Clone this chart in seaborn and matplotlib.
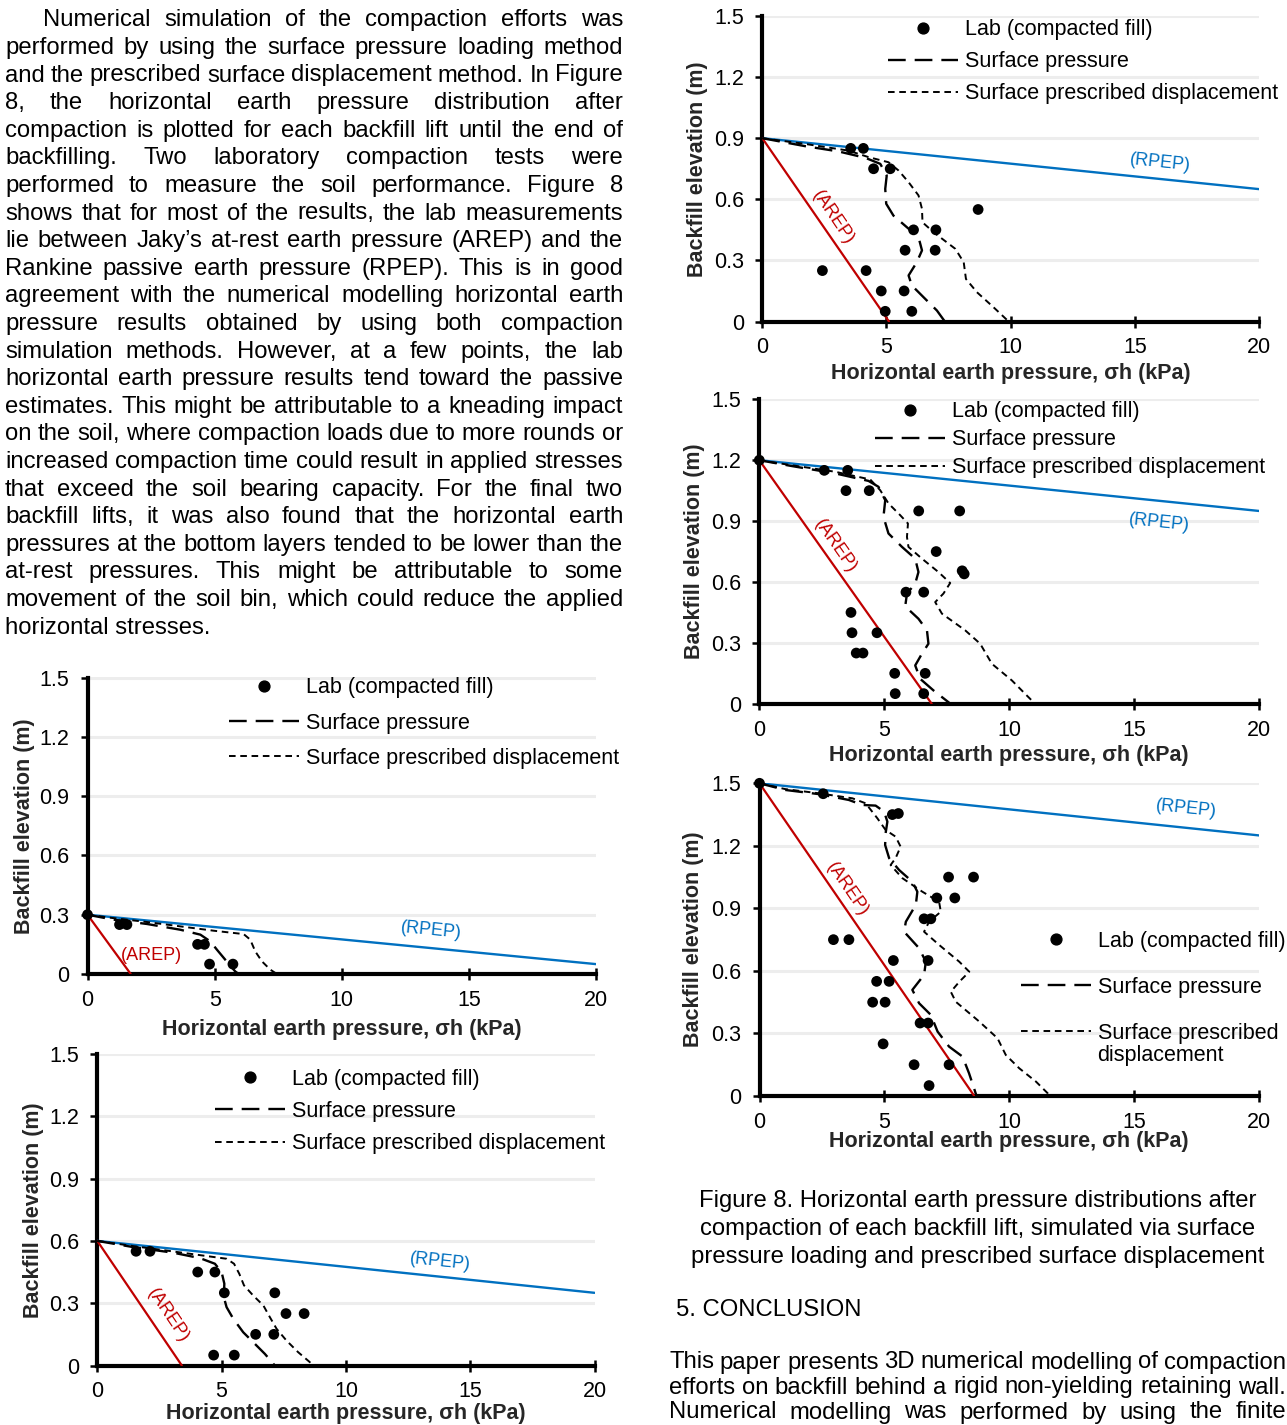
import matplotlib
matplotlib.use("Agg")
import matplotlib.pyplot as plt
from matplotlib.lines import Line2D
import pandas as pd
import seaborn as sns

# ---------------------------------------------------------------- data
lift_heights = [0.3, 0.6, 0.9, 1.2, 1.5]
arep_base = [1.7, 3.4, 5.1, 6.9, 8.6]          # at-rest pressure at wall base (kPa)
rpep_at20 = [0.05, 0.35, 0.65, 0.95, 1.25]     # elevation where RPEP reaches 20 kPa

lab_x_03 = [0, 1.26, 1.55, 4.33, 4.60, 4.80, 5.72]
lab_y_03 = [0.30, 0.25, 0.25, 0.15, 0.15, 0.05, 0.05]
sp_x_03 = [0, 1.02, 2.34, 3.65, 4.44, 4.83, 5.09, 5.42, 5.81, 5.95]
sp_y_03 = [0.30, 0.275, 0.253, 0.224, 0.199, 0.165, 0.123, 0.072, 0.013, 0.0]
pd_x_03 = [0, 1.0, 2.34, 3.65, 4.96, 6.14, 6.40, 6.60, 6.86, 7.19, 7.45]
pd_y_03 = [0.30, 0.283, 0.263, 0.241, 0.219, 0.202, 0.174, 0.114, 0.064, 0.022, 0.0]

lab_x_06 = [1.56, 2.12, 4.04, 4.73, 5.11, 7.14, 7.59, 8.32, 6.37, 7.10, 4.68, 5.51]
lab_y_06 = [0.55, 0.55, 0.45, 0.45, 0.35, 0.35, 0.25, 0.25, 0.15, 0.15, 0.05, 0.05]
sp_x_06 = [0, 1.45, 3.06, 4.13, 4.73, 5.00, 5.11, 5.09, 5.20, 5.47, 5.87, 6.34, 6.74, 7.14]
sp_y_06 = [0.60, 0.570, 0.543, 0.517, 0.490, 0.450, 0.394, 0.329, 0.281, 0.225, 0.160, 0.104, 0.056, 0.0]
pd_x_06 = [0, 1.45, 3.06, 4.40, 5.20, 5.50, 5.71, 5.90, 6.27, 6.68, 6.94, 7.21, 7.61, 8.08, 8.55, 8.65]
pd_y_06 = [0.60, 0.575, 0.549, 0.527, 0.514, 0.490, 0.442, 0.386, 0.337, 0.289, 0.233, 0.177, 0.120, 0.064, 0.016, 0.0]

lab_x_09 = [3.56, 4.07, 4.48, 5.15, 8.69, 6.09, 6.99, 5.75, 6.96, 2.42, 4.18, 4.79, 5.71, 4.95, 6.02]
lab_y_09 = [0.85, 0.85, 0.75, 0.75, 0.55, 0.45, 0.45, 0.35, 0.35, 0.25, 0.25, 0.15, 0.15, 0.05, 0.05]
sp_x_09 = [0, 1.72, 3.07, 4.14, 4.75, 5.01, 4.95, 4.99, 5.28, 5.82, 6.29, 6.43, 6.22, 5.89, 6.02, 6.56, 7.03, 7.35]
sp_y_09 = [0.90, 0.861, 0.835, 0.804, 0.774, 0.717, 0.651, 0.578, 0.520, 0.463, 0.414, 0.349, 0.291, 0.226, 0.177, 0.111, 0.054, 0.0]
pd_x_09 = [0, 1.72, 3.47, 4.28, 5.08, 5.49, 5.89, 6.29, 6.43, 6.45, 6.90, 7.77, 8.11, 8.20, 8.64, 9.31, 9.92]
pd_y_09 = [0.90, 0.872, 0.839, 0.807, 0.782, 0.741, 0.684, 0.619, 0.553, 0.487, 0.438, 0.357, 0.291, 0.209, 0.144, 0.070, 0.0]

lab_x_12 = [0, 2.60, 3.54, 3.47, 4.40, 6.38, 8.02, 7.08, 8.12, 8.20, 5.87, 6.58, 3.67, 3.71, 4.71, 3.88, 4.15, 5.42, 6.64, 5.44, 6.58]
lab_y_12 = [1.20, 1.15, 1.15, 1.05, 1.05, 0.95, 0.95, 0.75, 0.655, 0.64, 0.55, 0.55, 0.45, 0.35, 0.35, 0.25, 0.25, 0.15, 0.15, 0.05, 0.05]
sp_x_12 = [0, 1.31, 3.04, 4.37, 4.77, 5.04, 4.97, 5.17, 5.71, 6.24, 6.37, 6.24, 5.91, 5.84, 6.37, 6.71, 6.77, 6.51, 6.24, 6.44, 6.97, 7.57, 7.65]
sp_y_12 = [1.20, 1.171, 1.135, 1.098, 1.069, 1.003, 0.921, 0.839, 0.773, 0.715, 0.649, 0.592, 0.543, 0.480, 0.419, 0.362, 0.296, 0.247, 0.189, 0.123, 0.066, 0.008, 0.0]
pd_x_12 = [0, 1.31, 3.04, 4.44, 4.84, 5.17, 5.64, 5.95, 5.91, 5.97, 6.51, 7.17, 7.64, 7.37, 7.04, 7.31, 8.24, 8.84, 9.31, 10.11, 10.64, 11.04]
pd_y_12 = [1.20, 1.175, 1.143, 1.105, 1.052, 0.987, 0.929, 0.888, 0.822, 0.773, 0.715, 0.649, 0.595, 0.543, 0.501, 0.444, 0.362, 0.296, 0.197, 0.115, 0.049, 0.0]

lab_x_15 = [0, 2.55, 5.32, 5.56, 7.57, 8.57, 7.10, 7.82, 6.59, 6.86, 2.96, 3.58, 5.36, 6.75, 4.69, 5.19, 4.53, 5.03, 6.43, 6.75, 4.95, 6.19, 7.59, 6.79]
lab_y_15 = [1.50, 1.45, 1.35, 1.355, 1.05, 1.05, 0.95, 0.95, 0.85, 0.85, 0.75, 0.75, 0.65, 0.65, 0.55, 0.55, 0.45, 0.45, 0.35, 0.35, 0.25, 0.15, 0.15, 0.05]
sp_x_15 = [0, 1.04, 2.38, 3.58, 4.12, 4.65, 4.99, 5.12, 5.05, 5.03, 5.19, 5.59, 6.12, 6.32, 6.26, 5.86, 5.79, 6.39, 6.66, 6.59, 6.12, 6.39, 6.86, 7.13, 7.59, 8.13, 8.39, 8.59, 8.69]
sp_y_15 = [1.50, 1.468, 1.448, 1.420, 1.396, 1.393, 1.364, 1.316, 1.261, 1.204, 1.141, 1.084, 1.028, 0.980, 0.917, 0.836, 0.788, 0.709, 0.644, 0.581, 0.509, 0.445, 0.389, 0.309, 0.237, 0.189, 0.109, 0.037, 0.0]
pd_x_15 = [0, 1.04, 2.38, 3.72, 4.25, 4.72, 5.05, 5.45, 5.65, 5.45, 5.25, 5.72, 6.52, 7.19, 7.26, 6.79, 6.59, 7.19, 8.00, 8.40, 8.00, 7.66, 7.86, 8.80, 9.53, 9.86, 10.40, 11.07, 11.54, 11.6]
pd_y_15 = [1.50, 1.472, 1.452, 1.428, 1.404, 1.332, 1.276, 1.244, 1.196, 1.141, 1.108, 1.045, 0.980, 0.932, 0.884, 0.836, 0.788, 0.725, 0.644, 0.596, 0.548, 0.500, 0.452, 0.357, 0.277, 0.197, 0.133, 0.069, 0.013, 0.0]

x_ticks = [0, 5, 10, 15, 20]
y_ticks = [0, 0.3, 0.6, 0.9, 1.2, 1.5]
y_tick_labels = ["0", "0.3", "0.6", "0.9", "1.2", "1.5"]
legend_labels = ["Lab (compacted fill)", "Surface pressure", "Surface prescribed displacement"]
x_label = "Horizontal earth pressure, σh (kPa)"
y_label = "Backfill elevation (m)"

body_lines = [
    "Numerical simulation of the compaction efforts was",
    "performed by using the surface pressure loading method",
    "and the prescribed surface displacement method. In Figure",
    "8, the horizontal earth pressure distribution after",
    "compaction is plotted for each backfill lift until the end of",
    "backfilling. Two laboratory compaction tests were",
    "performed to measure the soil performance. Figure 8",
    "shows that for most of the results, the lab measurements",
    "lie between Jaky’s at-rest earth pressure (AREP) and the",
    "Rankine passive earth pressure (RPEP). This is in good",
    "agreement with the numerical modelling horizontal earth",
    "pressure results obtained by using both compaction",
    "simulation methods. However, at a few points, the lab",
    "horizontal earth pressure results tend toward the passive",
    "estimates. This might be attributable to a kneading impact",
    "on the soil, where compaction loads due to more rounds or",
    "increased compaction time could result in applied stresses",
    "that exceed the soil bearing capacity. For the final two",
    "backfill lifts, it was also found that the horizontal earth",
    "pressures at the bottom layers tended to be lower than the",
    "at-rest pressures. This might be attributable to some",
    "movement of the soil bin, which could reduce the applied",
    "horizontal stresses.",
]
caption_lines = [
    "Figure 8. Horizontal earth pressure distributions after",
    "compaction of each backfill lift, simulated via surface",
    "pressure loading and prescribed surface displacement",
]
heading = "5. CONCLUSION"
conclusion_lines = [
    "This paper presents 3D numerical modelling of compaction",
    "efforts on backfill behind a rigid non-yielding retaining wall.",
    "Numerical modelling was performed by using the finite",
]

# ---------------------------------------------------------------- style
sns.set_theme(style="white")
plt.rcParams["font.family"] = ["Liberation Sans", "DejaVu Sans"]
plt.rcParams["axes.unicode_minus"] = False

W, H = 1287, 1425
fig = plt.figure(figsize=(W / 100, H / 100), dpi=100)
fig.patch.set_facecolor("white")

BODY_FS = 17.2
AX_FS = 15.5
LAB_FS = 13
BLUE = "#0070C0"
RED = "#C00000"
LW_SP, DASH_SP = 1.7, (7.5, 3.8)
LW_PD, DASH_PD = 1.4, (3.4, 2.4)


def fx(px):
    return px / W


def fy(py):
    return 1 - py / H


# panel geometry in pixels: left, right, y(0), y(1.5)
panels = [
    dict(H=lift_heights[0], arep=arep_base[0], rpep=rpep_at20[0],
         lx=lab_x_03, ly=lab_y_03, sx=sp_x_03, sy=sp_y_03, px=pd_x_03, py=pd_y_03,
         box=(87.5, 596, 974, 677.5),
         arep_lab=(2.53, 0.093, 0), rpep_lab=(13.5, 0.219, -5.5),
         leg=(229, 686, 0.66), xoff=55, yoff=63),
    dict(H=lift_heights[1], arep=arep_base[1], rpep=rpep_at20[1],
         lx=lab_x_06, ly=lab_y_06, sx=sp_x_06, sy=sp_y_06, px=pd_x_06, py=pd_y_06,
         box=(97.3, 594.5, 1365.5, 1054),
         arep_lab=(2.85, 0.238, -56), rpep_lab=(13.8, 0.50, -6),
         leg=(215, 1077, 0.53), xoff=48, yoff=64),
    dict(H=lift_heights[2], arep=arep_base[2], rpep=rpep_at20[2],
         lx=lab_x_09, ly=lab_y_09, sx=sp_x_09, sy=sp_y_09, px=pd_x_09, py=pd_y_09,
         box=(762.3, 1259, 321.5, 16),
         arep_lab=(2.86, 0.51, -56), rpep_lab=(16.0, 0.78, -6),
         leg=(888, 28, 0.51), xoff=52, yoff=65),
    dict(H=lift_heights[3], arep=arep_base[3], rpep=rpep_at20[3],
         lx=lab_x_12, ly=lab_y_12, sx=sp_x_12, sy=sp_y_12, px=pd_x_12, py=pd_y_12,
         box=(759.3, 1259, 703.8, 399.3),
         arep_lab=(3.04, 0.776, -55), rpep_lab=(16.0, 0.89, -6),
         leg=(875, 410, 0.32), xoff=52, yoff=65),
    dict(H=lift_heights[4], arep=arep_base[4], rpep=rpep_at20[4],
         lx=lab_x_15, ly=lab_y_15, sx=sp_x_15, sy=sp_y_15, px=pd_x_15, py=pd_y_15,
         box=(759.5, 1259, 1096, 783.3),
         arep_lab=(3.52, 0.99, -55.5), rpep_lab=(17.1, 1.38, -6),
         leg=(1021, 939, 1.17), xoff=46, yoff=66, split=True),
]

for p in panels:
    l, r, y0, y1 = p["box"]
    ax = fig.add_axes([fx(l), fy(y0), (r - l) / W, (y0 - y1) / H])
    ax.set_xlim(0, 20)
    ax.set_ylim(0, 1.5)
    ax.set_facecolor("none")

    # grid
    ax.set_axisbelow(True)
    ax.grid(axis="y", color="#EDEDED", lw=2.2)
    ax.grid(axis="x", visible=False)

    # theory lines
    rp = pd.DataFrame({"x": [0, 20], "y": [p["H"], p["rpep"]]})
    sns.lineplot(data=rp, x="x", y="y", ax=ax, color=BLUE, lw=1.7,
                 sort=False, estimator=None, zorder=3)
    ar = pd.DataFrame({"x": [0, p["arep"]], "y": [p["H"], 0]})
    sns.lineplot(data=ar, x="x", y="y", ax=ax, color=RED, lw=1.6,
                 sort=False, estimator=None, zorder=3)

    # simulations
    sns.lineplot(x=p["sx"], y=p["sy"], ax=ax, color="black", lw=LW_SP,
                 linestyle=(0, DASH_SP), sort=False, estimator=None, zorder=4)
    sns.lineplot(x=p["px"], y=p["py"], ax=ax, color="black", lw=LW_PD,
                 linestyle=(0, DASH_PD), sort=False, estimator=None, zorder=4)

    # lab
    sns.scatterplot(x=p["lx"], y=p["ly"], ax=ax, color="black", s=60,
                    edgecolor="none", zorder=6, clip_on=False, legend=False)

    # theory labels
    axl = p["arep_lab"]
    ax.text(axl[0], axl[1], "(AREP)", color=RED, fontsize=LAB_FS,
            rotation=axl[2], ha="center", va="center", rotation_mode="anchor")
    rpl = p["rpep_lab"]
    ax.text(rpl[0], rpl[1], "(RPEP)", color=BLUE, fontsize=LAB_FS,
            rotation=rpl[2], ha="center", va="center", rotation_mode="anchor")

    # axes styling
    for side in ("top", "right"):
        ax.spines[side].set_visible(False)
    for side in ("left", "bottom"):
        ax.spines[side].set_visible(True)
        ax.spines[side].set_color("black")
        ax.spines[side].set_linewidth(3.0)
    ax.set_xticks(x_ticks)
    ax.set_xticklabels([str(t) for t in x_ticks])
    ax.set_yticks(y_ticks)
    ax.set_yticklabels(y_tick_labels)
    ax.tick_params(axis="x", direction="inout", length=8, width=1.8,
                   color="black", labelsize=AX_FS, labelcolor="black", pad=7.5,
                   bottom=True)
    ax.tick_params(axis="y", direction="out", length=5, width=1.8,
                   color="black", labelsize=AX_FS, labelcolor="black", pad=8,
                   left=True)

    axw, axh = r - l, y0 - y1
    ax.set_xlabel(x_label, fontsize=AX_FS, fontweight="bold", va="center")
    ax.xaxis.set_label_coords(0.5, -p["xoff"] / axh)
    ax.set_ylabel(y_label, fontsize=AX_FS, fontweight="bold", va="center")
    ax.yaxis.set_label_coords(-p["yoff"] / axw, 0.5)

    # legend
    handles = [
        Line2D([], [], marker="o", ls="none", color="black", markersize=7.8),
        Line2D([], [], color="black", lw=LW_SP, dashes=DASH_SP),
        Line2D([], [], color="black", lw=LW_PD, dashes=DASH_PD),
    ]
    labels = list(legend_labels)
    if p.get("split"):
        labels[2] = "Surface prescribed"
    lgx, lgy, lsp = p["leg"]
    leg = ax.legend(handles, labels, loc="upper left",
                    bbox_to_anchor=(fx(lgx), fy(lgy - 8.5)),
                    bbox_transform=fig.transFigure, frameon=False,
                    fontsize=AX_FS, handlelength=3.25, handletextpad=0.33,
                    labelspacing=lsp, borderpad=0, borderaxespad=0)
    for t in leg.get_texts():
        t.set_color("black")
    if p.get("split"):
        fig.text(fx(1097), fy(1056), "displacement", fontsize=AX_FS,
                 ha="left", va="center", color="black")

# ---------------------------------------------------------------- page text
renderer = fig.canvas.get_renderer()


def put_line(text, x0, x1, base, justify=True, fs=BODY_FS):
    if not justify:
        fig.text(fx(x0), fy(base), text, fontsize=fs, ha="left", va="baseline",
                 color="black")
        return
    words = text.split(" ")
    arts = [fig.text(0, fy(base), w, fontsize=fs, ha="left", va="baseline",
                     color="black") for w in words]
    widths = [a.get_window_extent(renderer).width for a in arts]
    gap = (x1 - x0 - sum(widths)) / max(len(words) - 1, 1)
    x = x0
    for a, w in zip(arts, widths):
        a.set_x(fx(x))
        x += w + gap


BASE0, PITCH = 26.3, 27.6
for i, line in enumerate(body_lines):
    x0 = 43 if i == 0 else 5
    put_line(line, x0, 623, BASE0 + PITCH * i, justify=(i < len(body_lines) - 1))

for i, line in enumerate(caption_lines):
    fig.text(fx(978), fy(1207.5 + 27.6 * i), line, fontsize=BODY_FS,
             ha="center", va="baseline", color="black")

fig.text(fx(676), fy(1316), heading, fontsize=BODY_FS, ha="left",
         va="baseline", color="black")

for i, line in enumerate(conclusion_lines):
    put_line(line, 669, 1286, 1368.5 + 25.0 * i)

fig.savefig("out.png", dpi=100, facecolor="white")
